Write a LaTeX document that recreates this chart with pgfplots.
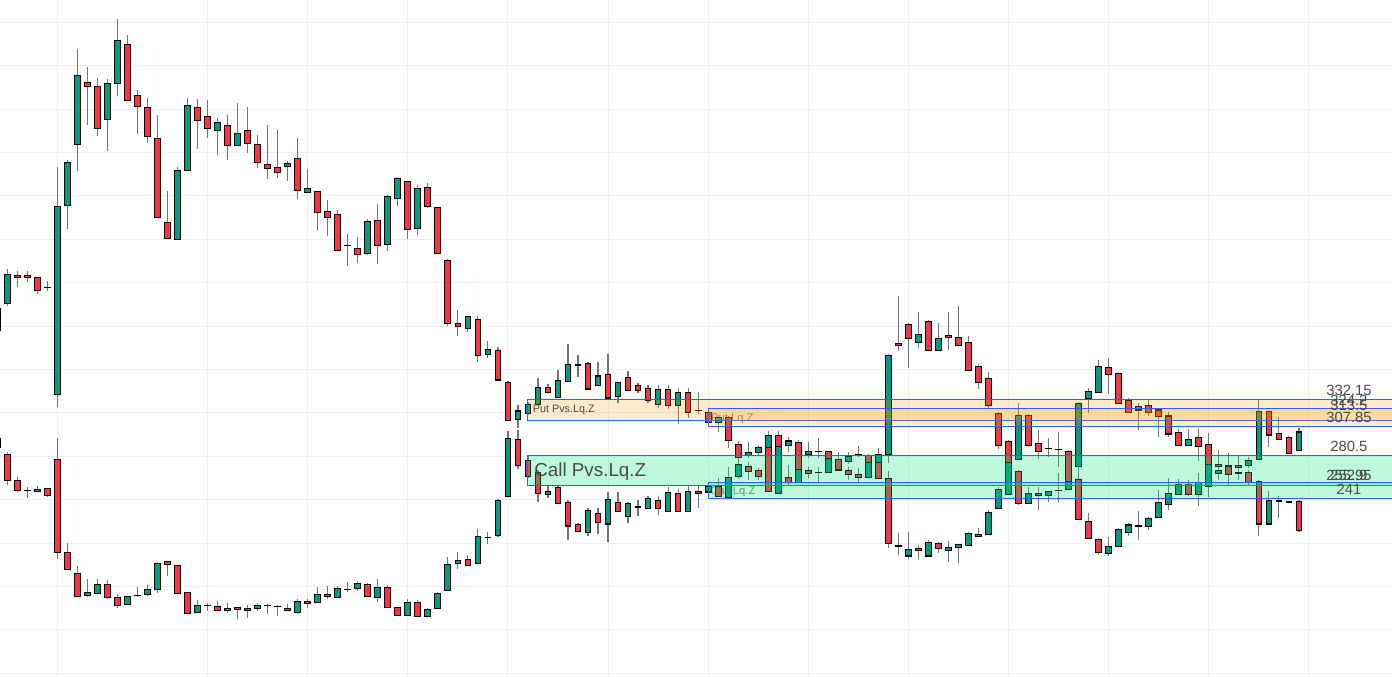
\documentclass[border=0pt]{standalone}
\usepackage{pgfplots}
\usepackage{pgfplotstable}
\pgfplotsset{compat=1.18}
\usepackage{fontspec}
\setmainfont{Liberation Sans}
\definecolor{upc}{HTML}{089981}
\definecolor{dnc}{HTML}{F23645}
\definecolor{wickc}{HTML}{737373}
\definecolor{gridc}{HTML}{EFEFEF}
\definecolor{boxblue}{HTML}{2962FF}
\definecolor{putfill}{HTML}{FF9800}
\definecolor{callfill}{HTML}{00E676}
\definecolor{lblc}{HTML}{4A4A4A}
\definecolor{smallc}{HTML}{7A7A7A}

% upper series (put side): x o h l c
\pgfplotstableread{
x o h l c
-1 396.5 415.8 396.5 415.8
0 421.1 452.7 418.6 447.8
1 446.9 450.8 436.4 445.0
2 446.9 450.8 441.0 445.0
3 445.0 445.0 429.9 433.0
4 435.8 441.6 432.7 435.8
5 337.2 546.9 325.2 510.1
6 511.0 553.1 489.5 551.0
7 567.6 655.4 543.3 631.2
8 624.7 638.8 585.6 621.0
9 621.0 628.7 575.5 582.3
10 590.6 627.8 561.7 623.8
11 623.8 683.0 612.4 663.4
12 659.7 668.6 608.1 608.1
13 612.7 617.9 577.4 602.6
14 601.7 610.2 569.1 575.0
15 573.1 594.6 500.3 500.3
16 495.7 524.5 481.0 481.0
17 480.0 546.7 480.0 543.6
18 543.6 610.2 543.6 603.5
19 601.7 609.3 563.5 589.7
20 593.4 608.4 573.7 582.3
21 580.5 592.1 558.0 587.9
22 585.1 594.6 553.4 566.7
23 566.7 605.6 566.7 577.7
24 580.5 602.0 559.3 568.5
25 567.6 576.2 546.0 551.0
26 549.2 585.4 535.9 545.5
27 546.4 580.8 536.8 541.8
28 547.3 552.5 534.0 550.1
29 554.7 573.1 517.5 525.2
30 523.4 544.5 522.4 527.0
31 524.3 524.3 488.9 504.9
32 505.8 516.0 483.4 500.3
33 503.1 506.8 469.9 469.9
34 474.5 484.6 455.7 474.5
35 471.7 481.9 458.5 466.2
36 467.1 498.5 465.3 496.6
37 497.5 512.3 457.6 474.5
38 475.4 520.6 469.3 519.7
39 517.8 537.2 511.0 536.3
40 533.5 533.5 480.6 489.3
41 490.2 529.8 484.0 527.0
42 528.0 531.9 509.2 510.1
43 509.5 509.5 466.2 467.1
44 460.7 461.6 400.4 402.6
45 402.6 414.9 391.2 399.9
46 398.0 409.1 394.3 409.1
47 406.3 409.1 366.7 373.1
48 374.1 386.0 370.4 378.7
49 377.8 380.8 349.5 350.4
50 348.3 349.5 312.6 313.2
51 314.2 327.3 306.2 321.8
52 319.3 330.4 318.1 328.0
53 328.0 352.0 327.3 343.3
54 343.3 346.4 338.4 339.1
55 334.4 359.6 333.8 350.1
56 349.2 383.6 349.2 364.9
57 364.5 373.4 352.9 364.5
58 365.8 367.0 341.2 342.1
59 345.5 367.0 344.9 354.1
60 355.6 374.1 333.8 333.8
61 335.4 348.3 328.9 348.3
62 352.9 358.4 340.2 340.9
63 345.5 347.3 338.1 340.9
64 342.4 345.5 328.9 331.7
65 328.0 345.5 324.3 341.8
66 341.8 345.5 323.4 327.1
67 327.1 342.7 309.6 339.1
68 339.1 342.7 315.1 320.6
69 322.5 339.1 318.8 322.5
70 320.6 320.6 311.4 311.4
71 311.4 316.0 302.5 316.0
72 316.0 317.2 287.7 294.5
73 291.1 294.2 278.5 279.2
74 280.6 293.5 278.5 283.8
75 283.4 289.6 281.3 288.4
76 288.4 303.7 288.4 299.4
77 299.4 303.7 288.6 289.3
78 289.8 297.9 284.0 294.2
79 293.0 295.1 267.5 268.1
80 281.9 293.5 278.5 284.7
81 284.7 296.7 278.8 284.7
82 284.7 285.0 277.6 278.2
83 277.3 284.0 266.5 267.2
84 275.5 284.3 273.0 280.1
85 281.9 289.6 279.4 281.9
86 281.0 282.2 273.9 274.5
87 274.5 287.4 273.9 281.9
88 281.9 374.3 274.2 373.1
89 384.2 427.8 377.4 382.4
90 401.7 402.6 361.7 388.8
91 385.1 413.0 380.1 392.5
92 404.5 405.4 377.1 377.8
93 377.8 402.9 377.1 388.8
94 391.6 413.0 378.3 389.7
95 389.7 418.6 381.7 382.4
96 385.1 390.7 358.7 359.3
97 363.0 364.9 341.8 348.3
98 352.0 357.5 323.4 327.1
99 319.7 320.6 286.5 290.2
100 293.9 295.1 273.9 274.5
101 277.3 329.2 276.7 317.9
102 317.9 319.1 288.6 290.2
103 292.1 304.0 277.3 284.7
104 287.4 296.7 279.7 287.4
105 286.5 302.2 270.5 286.5
106 284.7 285.9 256.4 257.0
107 270.9 330.1 267.5 328.9
108 333.5 342.7 320.3 340.0
109 339.1 368.5 338.4 363.0
110 362.1 370.4 337.2 355.6
111 356.6 357.8 328.3 328.9
112 332.0 333.8 320.0 320.6
113 322.7 328.9 304.3 325.8
114 326.7 332.0 317.5 320.6
115 322.7 324.6 298.1 316.6
116 317.2 321.2 297.6 300.6
117 302.2 305.2 289.6 289.8
118 289.8 305.2 289.6 295.7
119 297.6 306.4 276.0 288.9
120 291.1 301.5 272.1 272.7
121 270.5 285.9 267.5 272.7
122 271.8 283.1 253.6 263.5
123 271.8 280.6 267.5 269.9
124 271.8 279.4 269.3 276.4
125 277.3 332.6 276.7 321.5
126 321.5 321.5 288.9 299.7
127 301.3 316.6 295.1 295.7
128 297.6 298.8 282.2 282.8
129 285.6 305.9 285.0 302.5
}\upperdata

% lower series (call side): x o h l c
\pgfplotstableread{
x o h l c
-1 296.7 296.7 288.0 288.0
0 281.9 283.8 253.9 258.0
1 258.0 260.7 247.5 248.7
2 248.7 251.5 241.4 248.7
3 247.8 252.4 246.9 249.7
4 250.6 250.6 242.3 244.1
5 277.3 297.2 185.4 191.6
6 191.6 199.9 175.9 175.9
7 172.3 178.7 150.1 151.1
8 152.0 166.7 150.1 154.8
9 153.8 166.7 152.9 162.1
10 162.1 165.8 148.3 150.1
11 150.1 152.9 140.0 142.8
12 143.7 151.1 142.8 151.1
13 152.0 159.4 150.4 152.0
14 152.9 161.2 151.1 157.5
15 157.5 182.4 153.8 181.5
16 183.3 183.3 169.5 180.5
17 179.6 179.6 153.8 153.8
18 154.8 154.8 135.4 135.4
19 136.3 147.4 135.4 142.8
20 142.8 144.6 137.2 142.8
21 141.9 146.7 137.2 138.2
22 138.2 144.6 135.4 140.0
23 140.9 140.9 129.9 139.1
24 138.2 143.0 131.3 140.0
25 140.0 144.6 137.2 142.8
26 142.8 143.7 134.5 142.8
27 141.9 142.8 132.6 141.9
28 140.0 143.7 137.5 138.2
29 136.3 148.3 134.5 146.5
30 146.5 148.3 140.0 144.6
31 145.5 159.4 144.9 152.9
32 152.9 160.3 148.3 151.1
33 150.1 160.3 149.2 158.4
34 157.5 164.0 154.8 157.5
35 158.4 164.9 155.7 163.0
36 162.1 163.3 150.4 151.1
37 150.1 166.7 145.5 159.4
38 159.4 161.2 140.2 140.9
39 140.9 140.9 132.9 133.6
40 133.6 148.3 132.9 145.5
41 145.5 147.4 131.9 132.6
42 132.6 140.0 131.9 139.1
43 140.0 154.8 139.4 153.8
44 156.6 187.0 156.0 180.5
45 181.5 191.6 175.9 184.2
46 185.2 188.9 178.9 179.6
47 181.5 212.8 180.8 206.4
48 205.4 210.0 199.0 205.4
49 207.3 240.4 205.4 239.5
50 243.2 303.1 242.6 296.7
51 295.7 304.3 268.1 271.8
52 276.0 281.3 260.1 261.3
53 265.0 267.5 238.2 246.0
54 245.1 253.0 241.4 247.5
55 251.5 252.7 236.1 236.8
56 237.7 239.8 202.9 215.8
57 217.4 218.6 210.3 211.0
58 210.0 232.2 206.6 229.9
59 227.5 232.2 208.2 219.3
60 217.7 247.5 200.8 240.4
61 237.7 247.5 228.7 229.4
62 224.8 238.0 218.3 236.8
63 233.3 239.5 224.8 233.3
64 232.2 243.2 231.5 241.4
65 239.5 243.2 225.7 232.2
66 229.4 251.5 228.7 246.9
67 246.0 249.7 228.7 229.4
68 229.4 253.3 228.7 247.8
69 247.8 253.3 232.2 246.0
70 247.2 253.6 246.3 252.2
71 252.2 259.8 242.1 242.8
72 242.3 270.5 241.6 260.7
73 261.3 278.5 259.2 272.7
74 270.9 274.8 258.2 265.9
75 267.2 269.3 258.2 261.3
76 288.4 288.4 247.2 247.5
77 246.0 289.3 245.3 289.3
78 260.7 272.1 253.6 256.1
79 256.1 268.1 255.5 268.1
80 267.2 270.6 260.1 264.4
81 265.3 270.5 256.7 265.3
82 265.3 278.2 264.7 278.2
83 277.1 277.1 267.0 267.5
84 267.2 270.6 258.2 263.5
85 263.5 269.3 256.4 260.7
86 260.7 274.5 260.1 274.5
87 274.5 274.5 259.2 259.8
88 259.8 266.5 195.6 199.9
89 197.7 209.1 189.1 197.7
90 188.2 210.0 185.2 194.4
91 195.3 198.3 185.4 193.4
92 188.2 203.0 187.3 200.8
93 199.9 200.8 191.3 195.3
94 193.4 201.8 183.0 196.2
95 196.2 199.0 181.5 199.0
96 198.1 210.0 197.4 209.1
97 206.4 213.7 205.4 208.2
98 208.2 230.3 207.6 228.5
99 232.2 251.8 231.5 249.7
100 245.1 275.7 244.4 274.5
101 266.3 267.5 235.2 236.8
102 236.8 252.0 236.1 246.0
103 244.1 251.5 230.3 246.0
104 244.1 247.8 238.2 247.8
105 248.7 264.4 237.7 248.7
106 249.7 258.2 249.0 257.0
107 258.9 271.1 221.4 222.0
108 220.2 227.5 203.9 204.5
109 203.6 204.8 188.8 191.6
110 190.7 205.4 188.2 197.1
111 196.8 214.0 196.5 212.8
112 209.7 218.6 206.6 216.8
113 216.1 229.7 202.9 216.1
114 215.2 224.1 212.2 222.9
115 223.8 249.0 223.2 237.7
116 235.8 260.1 230.6 246.0
117 245.1 259.2 244.4 253.6
118 253.6 258.2 243.5 245.1
119 245.1 264.4 234.6 256.1
120 252.0 276.7 242.8 272.7
121 264.4 270.6 258.2 266.6
122 270.6 274.8 258.2 263.2
123 264.9 267.5 258.2 264.9
124 265.3 267.5 253.6 256.1
125 257.0 258.2 206.9 217.7
126 217.7 248.1 216.8 239.1
127 239.1 243.7 223.5 239.1
128 238.2 238.2 237.0 238.2
129 238.2 239.8 210.4 211.6
}\lowerdata

\pgfplotsset{
  bar/.style 2 args={draw=none, no markers, mark size=0pt, forget plot,
    error bars/.cd, y dir=both, y explicit, error mark=none,
    error bar style={draw=#1, line width=#2}},
}

% wick, black outline, then coloured body for up and down candles
\newcommand\candles[1]{%
  \addplot[bar={wickc}{0.6pt}]
    table[x=x, y expr={(\thisrow{h}+\thisrow{l})/2},
          y error expr={(\thisrow{h}-\thisrow{l})/2}] {#1};
  \addplot[bar={black}{3.35pt}]
    table[x=x, y expr={(\thisrow{o}+\thisrow{c})/2},
          y error expr={abs(\thisrow{c}-\thisrow{o})/2+0.55}] {#1};
  \addplot[restrict expr to domain={\thisrow{c}-\thisrow{o}}{1.2:1000},
      bar={upc}{2.35pt}]
    table[x=x, y expr={(\thisrow{o}+\thisrow{c})/2},
          y error expr={abs(\thisrow{c}-\thisrow{o})/2-0.55}] {#1};
  \addplot[restrict expr to domain={\thisrow{o}-\thisrow{c}}{1.2:1000},
      bar={dnc}{2.35pt}]
    table[x=x, y expr={(\thisrow{o}+\thisrow{c})/2},
          y error expr={abs(\thisrow{c}-\thisrow{o})/2-0.55}] {#1};
}

\begin{document}
\begin{tikzpicture}
\begin{axis}[
  name=ax,
  scale only axis, width=696pt, height=338.5pt,
  xmin=-0.729, xmax=138.30, ymin=76.69, ymax=700.55,
  axis line style={draw=none}, major tick length=0pt,
  xtick={5,20,30,40,50,60,70,80,90,100,110,120,130},
  ytick={80,120,160,200,240,280,320,360,400,440,480,520,560,600,640,680},
  xticklabels={}, yticklabels={},
  grid=major, major grid style={draw=gridc, line width=0.5pt},
]
% small box captions sit under the candles
\node[anchor=base west, inner sep=0, text=smallc, font=\fontsize{5.6}{6}\selectfont]
  at (axis cs:70.26,311.9) {Put Lq.Z};
\node[anchor=base west, inner sep=0, text=smallc, font=\fontsize{5.6}{6}\selectfont]
  at (axis cs:70.2,244.4) {Call Lq.Z};

\candles{\upperdata}
\candles{\lowerdata}

% liquidity zones
\addplot[forget plot, fill=putfill, fill opacity=0.2, draw=boxblue, line width=0.5pt]
  coordinates {(52,313.5) (52,332.15) (150,332.15) (150,313.5)} -- cycle;
\addplot[forget plot, fill=putfill, fill opacity=0.2, draw=boxblue, line width=0.5pt]
  coordinates {(70,307.85) (70,324.2) (150,324.2) (150,307.85)} -- cycle;
\addplot[forget plot, fill=callfill, fill opacity=0.25, draw=boxblue, line width=0.5pt]
  coordinates {(52,252.9) (52,280.5) (150,280.5) (150,252.9)} -- cycle;
\addplot[forget plot, fill=callfill, fill opacity=0.25, draw=boxblue, line width=0.5pt]
  coordinates {(70,241) (70,255.95) (150,255.95) (150,241)} -- cycle;

\node[anchor=base west, inner sep=0, text=lblc, font=\fontsize{5.4}{6}\selectfont]
  at (axis cs:52.45,320.3) {Put Pvs.Lq.Z};
\node[anchor=base west, inner sep=0, text=lblc, font=\fontsize{9.4}{10}\selectfont]
  at (axis cs:52.6,261.3) {Call Pvs.Lq.Z};

% level labels on the right
\begin{scope}[every node/.style={inner sep=0, text=lblc, font=\fontsize{7.4}{8}\selectfont}]
\node at (axis cs:134,340.6) {332.15};
\node at (axis cs:134,331.3) {324.2};
\node at (axis cs:134,326.9) {313.5};
\node at (axis cs:134,316.0) {307.85};
\node at (axis cs:134,289.3) {280.5};
\node at (axis cs:134,262.4) {255.95};
\node at (axis cs:134,262.4) {252.9};
\node at (axis cs:134,249.2) {241};
\end{scope}
\end{axis}
\pgfresetboundingbox
\useasboundingbox (ax.south west) rectangle (ax.north east);
\end{tikzpicture}
\end{document}
